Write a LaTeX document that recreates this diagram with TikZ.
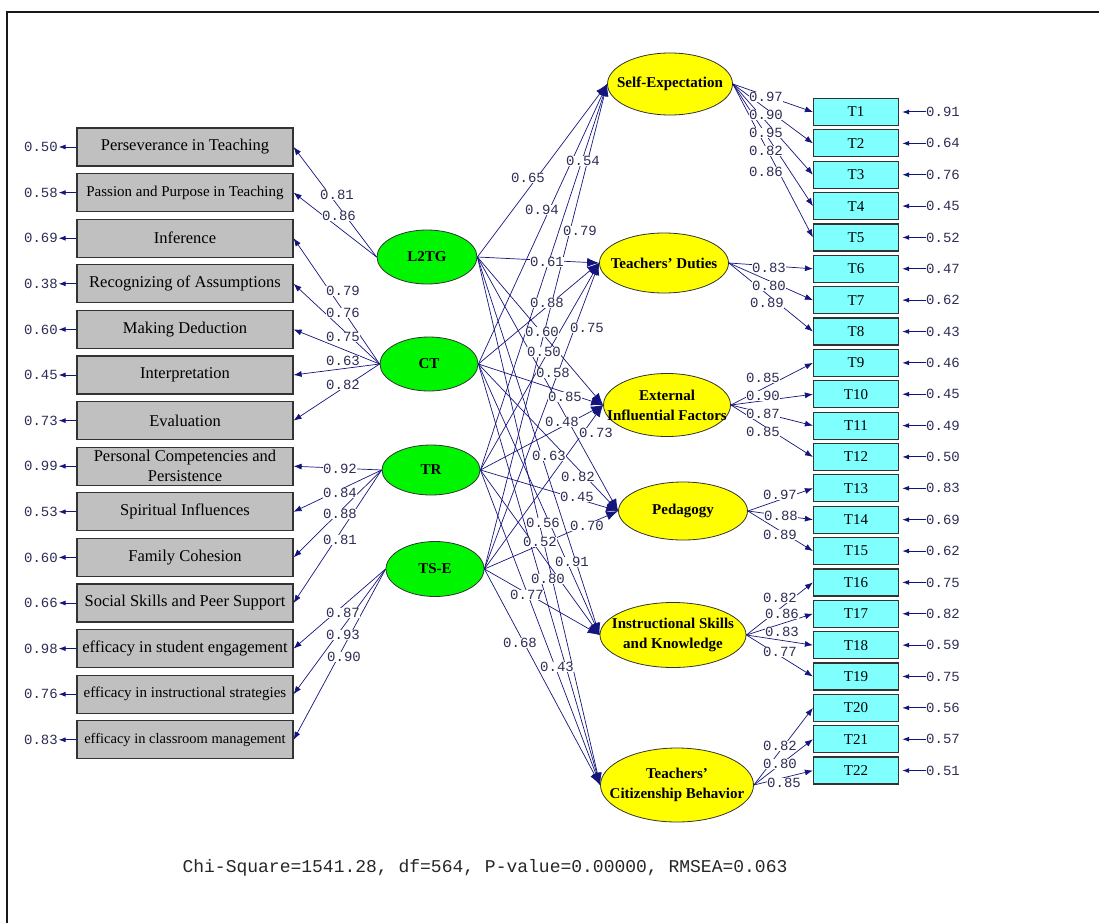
\documentclass[tikz,border=0pt]{standalone}
\usepackage{fontspec}
\setmainfont{Liberation Serif}
\newfontfamily\numfont{Liberation Mono}
\usetikzlibrary{shapes.geometric,arrows.meta}

\definecolor{pathblue}{RGB}{20,20,125}
\definecolor{numgray}{RGB}{45,45,85}
\definecolor{boxgray}{RGB}{192,192,192}
\definecolor{tcyan}{RGB}{128,255,255}
\definecolor{latgreen}{RGB}{0,245,0}
\definecolor{endoyellow}{RGB}{255,255,0}

\begin{document}
\begin{tikzpicture}[x=1pt,y=-1pt,
  obs/.style={draw=black!80, line width=1.2pt, fill=boxgray, minimum width=216pt,
    minimum height=38pt, inner sep=0pt, align=center, font=\fontsize{16.5}{20}\selectfont},
  tbox/.style={draw=black!80, line width=1.2pt, fill=tcyan, minimum width=85pt,
    minimum height=27pt, inner sep=0pt, font=\fontsize{15}{17}\selectfont},
  latent/.style={ellipse, draw=black!80, line width=0.8pt, fill=latgreen, minimum width=98pt,
    minimum height=54pt, inner sep=0pt, font=\fontsize{15}{17}\selectfont\bfseries},
  endo/.style={ellipse, draw=black!80, line width=0.8pt, fill=endoyellow, inner sep=0pt},
  endotxt/.style={align=center, inner sep=0pt, font=\fontsize{15}{20}\selectfont\bfseries},
  num/.style={font=\numfont\fontsize{14}{16}\selectfont, text=numgray, inner sep=0.5pt},
  lbl/.style={num, fill=white},
  gamma/.style={draw=pathblue, line width=0.7pt, -{Latex[length=12pt,width=9pt]}},
  lam/.style={draw=pathblue, line width=0.7pt, -{Latex[length=8pt,width=6pt]}},
  err/.style={draw=pathblue, line width=1pt, -{Latex[length=7pt,width=5pt]}}]

  \useasboundingbox (0,0) rectangle (1099,923);

  \newcommand\LY{45.6};
  \newcommand\TY{31.36};

  % frame
  \draw[line width=2.5pt, black!90] (7,923) -- (7,12) -- (1099,12);

  % left indicators
  \node[obs] (per) at (185, 147+0*\LY) {Perseverance in Teaching};
  \node[obs, font=\fontsize{15}{18}\selectfont] (pas) at (185, 147+1*\LY) {Passion and Purpose in Teaching};
  \node[obs] (inf) at (185, 147+2*\LY) {Inference};
  \node[obs] (rec) at (185, 147+3*\LY) {Recognizing of Assumptions};
  \node[obs] (mak) at (185, 147+4*\LY) {Making Deduction};
  \node[obs] (int) at (185, 147+5*\LY) {Interpretation};
  \node[obs] (eva) at (185, 147+6*\LY) {Evaluation};
  \node[obs] (pcp) at (185, 147+7*\LY) {Personal Competencies and\\Persistence};
  \node[obs] (spi) at (185, 147+8*\LY) {Spiritual Influences};
  \node[obs] (fam) at (185, 147+9*\LY) {Family Cohesion};
  \node[obs] (soc) at (185, 147+10*\LY) {Social Skills and Peer Support};
  \node[obs] (ese) at (185, 147+11*\LY) {efficacy in student engagement};
  \node[obs, font=\fontsize{15}{18}\selectfont] (eis) at (185, 147+12*\LY) {efficacy in instructional strategies};
  \node[obs, font=\fontsize{14.5}{18}\selectfont] (ecm) at (185, 147+13*\LY) {efficacy in classroom management};

  \node[num] (per-e) at (41, 147+0*\LY) {0.50};
  \node[num] (pas-e) at (41, 147+1*\LY) {0.58};
  \node[num] (inf-e) at (41, 147+2*\LY) {0.69};
  \node[num] (rec-e) at (41, 147+3*\LY) {0.38};
  \node[num] (mak-e) at (41, 147+4*\LY) {0.60};
  \node[num] (int-e) at (41, 147+5*\LY) {0.45};
  \node[num] (eva-e) at (41, 147+6*\LY) {0.73};
  \node[num] (pcp-e) at (41, 147+7*\LY) {0.99};
  \node[num] (spi-e) at (41, 147+8*\LY) {0.53};
  \node[num] (fam-e) at (41, 147+9*\LY) {0.60};
  \node[num] (soc-e) at (41, 147+10*\LY) {0.66};
  \node[num] (ese-e) at (41, 147+11*\LY) {0.98};
  \node[num] (eis-e) at (41, 147+12*\LY) {0.76};
  \node[num] (ecm-e) at (41, 147+13*\LY) {0.83};

  \draw[err] (per.west) -- (per-e.east);
  \draw[err] (pas.west) -- (pas-e.east);
  \draw[err] (inf.west) -- (inf-e.east);
  \draw[err] (rec.west) -- (rec-e.east);
  \draw[err] (mak.west) -- (mak-e.east);
  \draw[err] (int.west) -- (int-e.east);
  \draw[err] (eva.west) -- (eva-e.east);
  \draw[err] (pcp.west) -- (pcp-e.east);
  \draw[err] (spi.west) -- (spi-e.east);
  \draw[err] (fam.west) -- (fam-e.east);
  \draw[err] (soc.west) -- (soc-e.east);
  \draw[err] (ese.west) -- (ese-e.east);
  \draw[err] (eis.west) -- (eis-e.east);
  \draw[err] (ecm.west) -- (ecm-e.east);

  % latent variables
  \node[latent, minimum width=100pt] (l2tg) at (427,257) {L2TG};
  \node[latent] (ct) at (429,364) {CT};
  \node[latent, minimum height=50pt] (tr) at (431,470) {TR};
  \node[latent, minimum height=55pt] (tse) at (435,569) {TS-E};

  % outcome factors
  \node[endo, minimum width=125pt, minimum height=62pt,
    label={[endotxt]center:Self-Expectation}] (se) at (670,84) {};
  \node[endo, minimum width=129pt, minimum height=60pt,
    label={[endotxt]center:Teachers’ Duties}] (td) at (664,263) {};
  \node[endo, minimum width=127pt, minimum height=63pt,
    label={[endotxt]center:External\\Influential Factors}] (eif) at (667,405) {};
  \node[endo, minimum width=129pt, minimum height=58pt,
    label={[endotxt]center:Pedagogy}] (ped) at (683,511) {};
  \node[endo, minimum width=146pt, minimum height=65pt,
    label={[endotxt]center:Instructional Skills\\and Knowledge}] (isk) at (673,635) {};
  \node[endo, minimum width=153pt, minimum height=74pt,
    label={[endotxt]center:Teachers’\\Citizenship Behavior}] (tcb) at (677,785) {};

  % right indicators
  \node[tbox] (t1) at (856, 112+0*\TY) {T1};
  \node[tbox] (t2) at (856, 112+1*\TY) {T2};
  \node[tbox] (t3) at (856, 112+2*\TY) {T3};
  \node[tbox] (t4) at (856, 112+3*\TY) {T4};
  \node[tbox] (t5) at (856, 112+4*\TY) {T5};
  \node[tbox] (t6) at (856, 112+5*\TY) {T6};
  \node[tbox] (t7) at (856, 112+6*\TY) {T7};
  \node[tbox] (t8) at (856, 112+7*\TY) {T8};
  \node[tbox] (t9) at (856, 112+8*\TY) {T9};
  \node[tbox] (t10) at (856, 112+9*\TY) {T10};
  \node[tbox] (t11) at (856, 112+10*\TY) {T11};
  \node[tbox] (t12) at (856, 112+11*\TY) {T12};
  \node[tbox] (t13) at (856, 112+12*\TY) {T13};
  \node[tbox] (t14) at (856, 112+13*\TY) {T14};
  \node[tbox] (t15) at (856, 112+14*\TY) {T15};
  \node[tbox] (t16) at (856, 112+15*\TY) {T16};
  \node[tbox] (t17) at (856, 112+16*\TY) {T17};
  \node[tbox] (t18) at (856, 112+17*\TY) {T18};
  \node[tbox] (t19) at (856, 112+18*\TY) {T19};
  \node[tbox] (t20) at (856, 112+19*\TY) {T20};
  \node[tbox] (t21) at (856, 112+20*\TY) {T21};
  \node[tbox] (t22) at (856, 112+21*\TY) {T22};

  \node[num] (t1-e) at (943, 112+0*\TY) {0.91};
  \node[num] (t2-e) at (943, 112+1*\TY) {0.64};
  \node[num] (t3-e) at (943, 112+2*\TY) {0.76};
  \node[num] (t4-e) at (943, 112+3*\TY) {0.45};
  \node[num] (t5-e) at (943, 112+4*\TY) {0.52};
  \node[num] (t6-e) at (943, 112+5*\TY) {0.47};
  \node[num] (t7-e) at (943, 112+6*\TY) {0.62};
  \node[num] (t8-e) at (943, 112+7*\TY) {0.43};
  \node[num] (t9-e) at (943, 112+8*\TY) {0.46};
  \node[num] (t10-e) at (943, 112+9*\TY) {0.45};
  \node[num] (t11-e) at (943, 112+10*\TY) {0.49};
  \node[num] (t12-e) at (943, 112+11*\TY) {0.50};
  \node[num] (t13-e) at (943, 112+12*\TY) {0.83};
  \node[num] (t14-e) at (943, 112+13*\TY) {0.69};
  \node[num] (t15-e) at (943, 112+14*\TY) {0.62};
  \node[num] (t16-e) at (943, 112+15*\TY) {0.75};
  \node[num] (t17-e) at (943, 112+16*\TY) {0.82};
  \node[num] (t18-e) at (943, 112+17*\TY) {0.59};
  \node[num] (t19-e) at (943, 112+18*\TY) {0.75};
  \node[num] (t20-e) at (943, 112+19*\TY) {0.56};
  \node[num] (t21-e) at (943, 112+20*\TY) {0.57};
  \node[num] (t22-e) at (943, 112+21*\TY) {0.51};

  \draw[err, shorten >=3pt] (t1-e.west) -- (t1.east);
  \draw[err, shorten >=3pt] (t2-e.west) -- (t2.east);
  \draw[err, shorten >=3pt] (t3-e.west) -- (t3.east);
  \draw[err, shorten >=3pt] (t4-e.west) -- (t4.east);
  \draw[err, shorten >=3pt] (t5-e.west) -- (t5.east);
  \draw[err, shorten >=3pt] (t6-e.west) -- (t6.east);
  \draw[err, shorten >=3pt] (t7-e.west) -- (t7.east);
  \draw[err, shorten >=3pt] (t8-e.west) -- (t8.east);
  \draw[err, shorten >=3pt] (t9-e.west) -- (t9.east);
  \draw[err, shorten >=3pt] (t10-e.west) -- (t10.east);
  \draw[err, shorten >=3pt] (t11-e.west) -- (t11.east);
  \draw[err, shorten >=3pt] (t12-e.west) -- (t12.east);
  \draw[err, shorten >=3pt] (t13-e.west) -- (t13.east);
  \draw[err, shorten >=3pt] (t14-e.west) -- (t14.east);
  \draw[err, shorten >=3pt] (t15-e.west) -- (t15.east);
  \draw[err, shorten >=3pt] (t16-e.west) -- (t16.east);
  \draw[err, shorten >=3pt] (t17-e.west) -- (t17.east);
  \draw[err, shorten >=3pt] (t18-e.west) -- (t18.east);
  \draw[err, shorten >=3pt] (t19-e.west) -- (t19.east);
  \draw[err, shorten >=3pt] (t20-e.west) -- (t20.east);
  \draw[err, shorten >=3pt] (t21-e.west) -- (t21.east);
  \draw[err, shorten >=3pt] (t22-e.west) -- (t22.east);

  % loadings, left side
  \draw[lam] (l2tg.west) -- (per.east);
  \draw[lam] (l2tg.west) -- (pas.east);
  \draw[lam] (ct.west) -- (inf.east);
  \draw[lam] (ct.west) -- (rec.east);
  \draw[lam] (ct.west) -- (mak.east);
  \draw[lam] (ct.west) -- (int.east);
  \draw[lam] (ct.west) -- (eva.east);
  \draw[lam] (tr.west) -- (pcp.east);
  \draw[lam] (tr.west) -- (spi.east);
  \draw[lam] (tr.west) -- (fam.east);
  \draw[lam] (tr.west) -- (soc.east);
  \draw[lam] (tse.west) -- (ese.east);
  \draw[lam] (tse.west) -- (eis.east);
  \draw[lam] (tse.west) -- (ecm.east);

  % loadings, right side
  \draw[lam] (se.east) -- (t1.west);
  \draw[lam] (se.east) -- (t2.west);
  \draw[lam] (se.east) -- (t3.west);
  \draw[lam] (se.east) -- (t4.west);
  \draw[lam] (se.east) -- (t5.west);
  \draw[lam] (td.east) -- (t6.west);
  \draw[lam] (td.east) -- (t7.west);
  \draw[lam] (td.east) -- (t8.west);
  \draw[lam] (eif.east) -- (t9.west);
  \draw[lam] (eif.east) -- (t10.west);
  \draw[lam] (eif.east) -- (t11.west);
  \draw[lam] (eif.east) -- (t12.west);
  \draw[lam] (ped.east) -- (t13.west);
  \draw[lam] (ped.east) -- (t14.west);
  \draw[lam] (ped.east) -- (t15.west);
  \draw[lam] (isk.east) -- (t16.west);
  \draw[lam] (isk.east) -- (t17.west);
  \draw[lam] (isk.east) -- (t18.west);
  \draw[lam] (isk.east) -- (t19.west);
  \draw[lam] (tcb.east) -- (t20.west);
  \draw[lam] (tcb.east) -- (t21.west);
  \draw[lam] (tcb.east) -- (t22.west);

  % structural paths
  \draw[gamma] (l2tg.east) -- (se.west);
  \draw[gamma] (l2tg.east) -- (td.west);
  \draw[gamma] (l2tg.east) -- (eif.west);
  \draw[gamma] (l2tg.east) -- (ped.west);
  \draw[gamma] (l2tg.east) -- (isk.west);
  \draw[gamma] (l2tg.east) -- (tcb.west);
  \draw[gamma] (ct.east) -- (se.west);
  \draw[gamma] (ct.east) -- (td.west);
  \draw[gamma] (ct.east) -- (eif.west);
  \draw[gamma] (ct.east) -- (ped.west);
  \draw[gamma] (ct.east) -- (isk.west);
  \draw[gamma] (ct.east) -- (tcb.west);
  \draw[gamma] (tr.east) -- (se.west);
  \draw[gamma] (tr.east) -- (td.west);
  \draw[gamma] (tr.east) -- (eif.west);
  \draw[gamma] (tr.east) -- (ped.west);
  \draw[gamma] (tr.east) -- (isk.west);
  \draw[gamma] (tr.east) -- (tcb.west);
  \draw[gamma] (tse.east) -- (se.west);
  \draw[gamma] (tse.east) -- (td.west);
  \draw[gamma] (tse.east) -- (eif.west);
  \draw[gamma] (tse.east) -- (ped.west);
  \draw[gamma] (tse.east) -- (isk.west);
  \draw[gamma] (tse.east) -- (tcb.west);

  % labels, left loadings
  \node[lbl] (l1) at (337,195) {0.81};
  \node[lbl] (l2) at (339,216) {0.86};
  \node[lbl] (l3) at (343,291) {0.79};
  \node[lbl] (l4) at (343,313) {0.76};
  \node[lbl] (l5) at (343,337) {0.75};
  \node[lbl] (l6) at (343,361) {0.63};
  \node[lbl] (l7) at (343,385) {0.82};
  \node[lbl] (l8) at (340,469) {0.92};
  \node[lbl] (l9) at (340,493) {0.84};
  \node[lbl] (l10) at (340,514) {0.88};
  \node[lbl] (l11) at (340,540) {0.81};
  \node[lbl] (l12) at (343,613) {0.87};
  \node[lbl] (l13) at (343,635) {0.93};
  \node[lbl] (l14) at (344,657) {0.90};

  % labels, structural paths
  \node[lbl] (g1) at (528,178) {0.65};
  \node[lbl] (g2) at (583,161) {0.54};
  \node[lbl] (g3) at (542,210) {0.94};
  \node[lbl] (g4) at (580,231) {0.79};
  \node[lbl] (g5) at (547,262) {0.61};
  \node[lbl] (g6) at (547,303) {0.88};
  \node[lbl] (g7) at (542,332) {0.60};
  \node[lbl] (g8) at (587,328) {0.75};
  \node[lbl] (g9) at (544,352) {0.50};
  \node[lbl] (g10) at (553,373) {0.58};
  \node[lbl] (g11) at (565,397) {0.85};
  \node[lbl] (g12) at (562,422) {0.48};
  \node[lbl] (g13) at (596,433) {0.73};
  \node[lbl] (g14) at (549,456) {0.63};
  \node[lbl] (g15) at (578,477) {0.82};
  \node[lbl] (g16) at (577,497) {0.45};
  \node[lbl] (g17) at (543,523) {0.56};
  \node[lbl] (g18) at (587,526) {0.70};
  \node[lbl] (g19) at (540,542) {0.52};
  \node[lbl] (g20) at (572,562) {0.91};
  \node[lbl] (g21) at (548,579) {0.80};
  \node[lbl] (g22) at (527,595) {0.77};
  \node[lbl] (g23) at (520,643) {0.68};
  \node[lbl] (g24) at (557,667) {0.43};

  % labels, right loadings
  \node[lbl] (r1) at (766,97) {0.97};
  \node[lbl] (r2) at (766,115) {0.90};
  \node[lbl] (r3) at (766,133) {0.95};
  \node[lbl] (r4) at (766,151) {0.82};
  \node[lbl] (r5) at (766,172) {0.86};
  \node[lbl] (r6) at (769,268) {0.83};
  \node[lbl] (r7) at (769,286) {0.80};
  \node[lbl] (r8) at (767,303) {0.89};
  \node[lbl] (r9) at (763,378) {0.85};
  \node[lbl] (r10) at (763,396) {0.90};
  \node[lbl] (r11) at (763,414) {0.87};
  \node[lbl] (r12) at (763,432) {0.85};
  \node[lbl] (r13) at (780,495) {0.97};
  \node[lbl] (r14) at (781,516) {0.88};
  \node[lbl] (r15) at (780,535) {0.89};
  \node[lbl] (r16) at (780,598) {0.82};
  \node[lbl] (r17) at (782,614) {0.86};
  \node[lbl] (r18) at (782,632) {0.83};
  \node[lbl] (r19) at (780,652) {0.77};
  \node[lbl] (r20) at (780,746) {0.82};
  \node[lbl] (r21) at (780,764) {0.80};
  \node[lbl] (r22) at (784,783) {0.85};

  % fit line
  \node[font=\numfont\fontsize{18}{20}\selectfont, text=black!85] (fit) at (485,868)
    {Chi-Square=1541.28, df=564, P-value=0.00000, RMSEA=0.063};
\end{tikzpicture}
\end{document}
